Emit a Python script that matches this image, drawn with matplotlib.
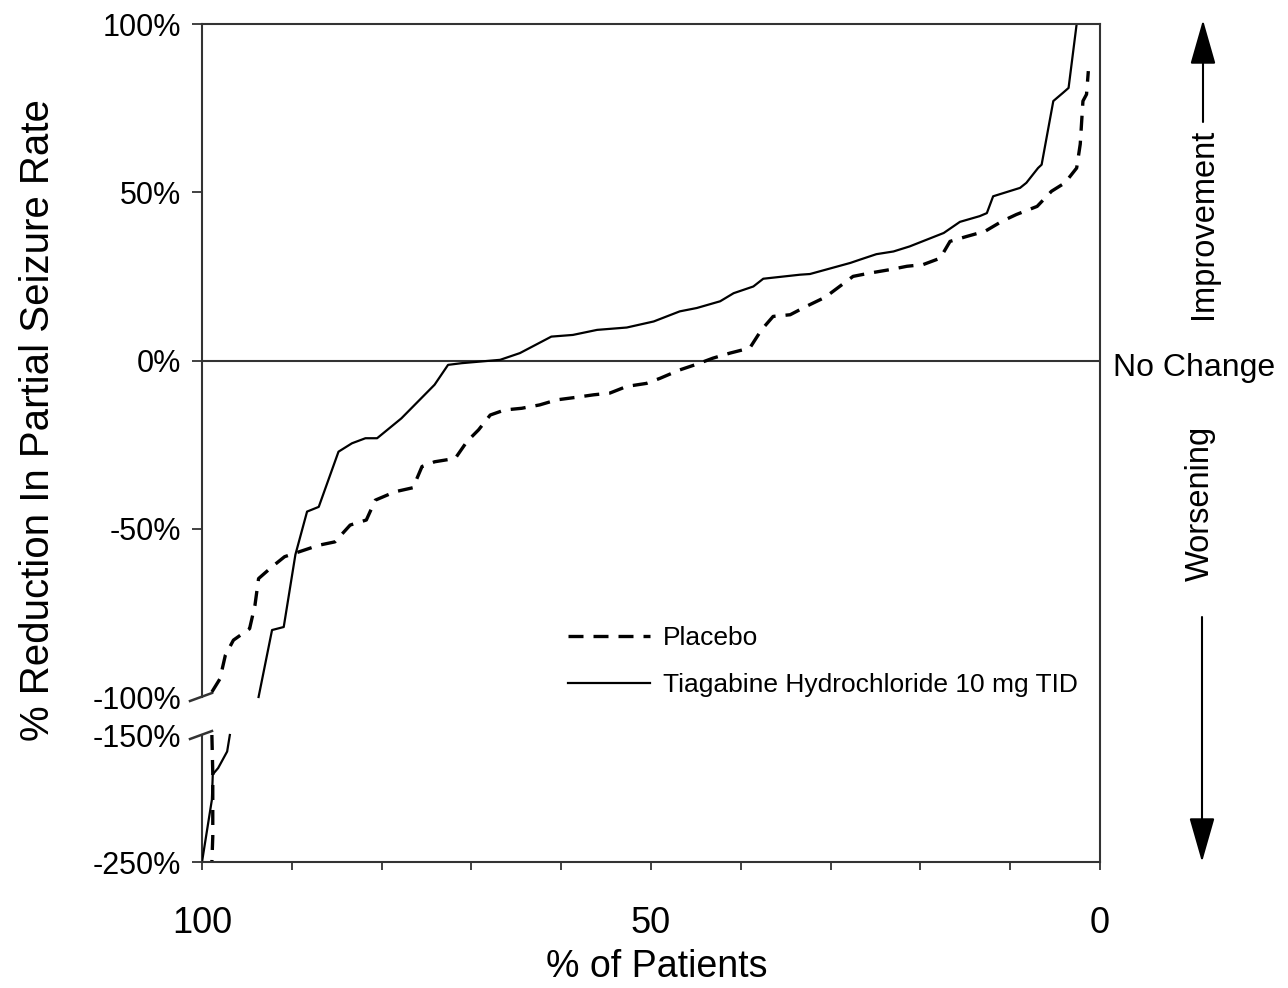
import numpy as np
import matplotlib
matplotlib.use("Agg")
import matplotlib.pyplot as plt

# ---------------- data ----------------
tiag_x_top = [93.7, 92.2, 90.9, 89.6, 88.3, 87.0, 84.8, 83.3, 81.8, 80.5, 77.8, 74.1,
              72.6, 71.1, 66.8, 64.6, 61.1, 58.7, 56.0, 52.7, 49.7, 46.8, 44.9, 42.3,
              40.8, 38.6, 37.5, 33.4, 32.3, 27.8, 26.7, 24.9, 23.0, 21.2, 17.4, 15.6,
              13.4, 12.6, 11.9, 8.9, 8.2, 6.9, 6.5, 5.2, 4.1, 3.5, 2.6]
tiag_y_top = [-100, -80.1, -79.2, -57.7, -44.9, -43.5, -27.1, -24.6, -23.1, -23.1, -17.2, -7.2,
              -1.3, -0.8, 0.2, 2.2, 7.1, 7.6, 9.1, 9.8, 11.6, 14.6, 15.6, 17.6,
              20.0, 22.0, 24.3, 25.5, 25.7, 29.0, 30.0, 31.6, 32.4, 33.9, 37.9, 41.2,
              42.9, 43.8, 48.8, 51.3, 52.8, 57.2, 58.2, 77.1, 79.6, 81.0, 100]
tiag_x_bot = [96.9, 97.2, 98.2, 98.8, 98.9, 100.0]
tiag_y_bot = [-150, -163, -176, -181, -201, -250]

plac_x_top = [98.9, 98.0, 97.4, 96.5, 94.7, 94.1, 93.7, 92.2, 90.8, 88.9, 87.0, 85.2,
              83.5, 81.7, 80.7, 78.5, 76.5, 75.5, 74.1, 71.8, 70.5, 69.2, 67.9, 66.3,
              64.4, 62.4, 60.5, 58.5, 56.4, 54.6, 52.7, 50.5, 49.0, 46.8, 44.9, 43.1,
              41.2, 39.0, 37.7, 36.4, 34.5, 32.7, 30.6, 29.0, 27.5, 25.6, 23.4, 21.5,
              19.7, 17.8, 16.7, 14.8, 12.8, 10.9, 9.3, 7.0, 5.4, 3.9, 2.6, 2.2, 1.9, 1.5, 1.3]
plac_y_top = [-98.5, -94.6, -87.6, -83.1, -79.7, -72.7, -64.8, -61.3, -58.3, -56.6, -54.9, -53.9,
              -48.9, -47.4, -41.5, -39.0, -37.8, -31.5, -30.1, -29.1, -24.1, -20.6, -16.2, -14.7,
              -14.2, -13.2, -11.7, -11.0, -10.2, -9.7, -7.7, -6.8, -5.3, -2.8, -1.1, 0.7,
              2.2, 3.7, 9.1, 13.1, 13.6, 16.1, 18.8, 22.0, 25.0, 26.0, 27.0, 28.0,
              28.5, 30.4, 35.4, 36.9, 38.4, 41.4, 43.4, 45.8, 50.3, 52.8, 57.2, 64.3, 77.1, 79.1, 86.0]
plac_x_bot = [98.9, 98.8, 98.8, 98.9]
plac_y_bot = [-150, -180, -230, -250]

y_ticks = [100, 50, 0, -50, -100, -150, -250]
y_tick_labels = ["100%", "50%", "0%", "-50%", "-100%", "-150%", "-250%"]
x_ticks = [100, 50, 0]
x_tick_labels = ["100", "50", "0"]

# ---------------- broken y scale ----------------
TOP_PX = 3.365          # px per unit above -100
GAP = 38.0 / TOP_PX     # gap between -100 and -150 (in top units)
BOT = 1.27 / TOP_PX     # compression factor below -150


def fwd(v):
    v = np.asarray(v, dtype=float)
    return np.where(v >= -100, v,
                    np.where(v >= -150, -100 + (v + 100) * GAP / 50.0,
                             -100 - GAP + (v + 150) * BOT))


def inv(u):
    u = np.asarray(u, dtype=float)
    return np.where(u >= -100, u,
                    np.where(u >= -100 - GAP, -100 + (u + 100) * 50.0 / GAP,
                             -150 + (u + 100 + GAP) / BOT))


W, H = 1288, 988
SANS = ["Liberation Sans", "DejaVu Sans"]
fig = plt.figure(figsize=(W / 100, H / 100), dpi=100)
ax = fig.add_axes([202 / W, 1 - 862 / H, (1100 - 202) / W, (862 - 24) / H])
ax.set_yscale("function", functions=(fwd, inv))
ax.set_ylim(-250, 100)
ax.set_xlim(100, 0)

frame_c = "#333333"
for s in ["top", "right", "bottom"]:
    ax.spines[s].set_color(frame_c)
    ax.spines[s].set_linewidth(1.5)
ax.spines["left"].set_visible(False)

# left spine in two pieces
yt = ax.get_yaxis_transform()
ax.plot([0, 0], [-100, 100], color=frame_c, lw=1.5, transform=yt, clip_on=False)
ax.plot([0, 0], [-250, -150], color=frame_c, lw=1.5, transform=yt, clip_on=False)

# break marks (in axes fraction)
lo = float(fwd(-250))
def frac(v):
    return (float(fwd(v)) - lo) / (100 - lo)
dx1, dx2 = -12 / 898, 10 / 898
dy = 8 / 838
for v in (-100, -150):
    f = frac(v)
    ax.plot([dx1, dx2], [f - dy / 2, f + dy / 2], color=frame_c, lw=1.8,
            transform=ax.transAxes, clip_on=False)

# zero line
ax.axhline(0, color=frame_c, lw=1.5)

# data
ax.plot(plac_x_top, plac_y_top, color="black", lw=2.4, dashes=(4.5, 3.0),
        label="Placebo")
ax.plot(plac_x_bot, plac_y_bot, color="black", lw=2.4, dashes=(4.5, 3.0))
ax.plot(tiag_x_top, tiag_y_top, color="black", lw=1.6,
        label="Tiagabine Hydrochloride 10 mg TID")
ax.plot(tiag_x_bot, tiag_y_bot, color="black", lw=1.6)

# ticks
ax.set_yticks(y_ticks)
ax.set_yticklabels(y_tick_labels)
ax.yaxis.set_minor_locator(matplotlib.ticker.NullLocator())
ax.tick_params(axis="y", which="major", direction="out", length=7, width=1.3,
               color=frame_c, pad=8, labelsize=22)
for t, v in zip(ax.yaxis.get_major_ticks(), y_ticks):
    if v in (-100, -150):
        t.tick1line.set_visible(False)

ax.set_xticks(x_ticks)
ax.set_xticklabels(x_tick_labels)
ax.set_xticks(np.arange(0, 101, 10), minor=True)
ax.tick_params(axis="x", which="both", direction="out", length=6, width=1.3,
               color=frame_c)
ax.tick_params(axis="x", which="major", pad=26, labelsize=26)

for lab in ax.get_yticklabels() + ax.get_xticklabels():
    lab.set_family(SANS)

# axis labels
fig.text(38 / W, 1 - 420 / H, "% Reduction In Partial Seizure Rate", rotation=90,
         ha="center", va="center", fontsize=29, family=SANS)
fig.text(657 / W, 1 - 967 / H, "% of Patients", ha="center", va="center",
         fontsize=27, family=SANS)

# right annotations
fig.text(1113 / W, 1 - 368 / H, "No Change", ha="left", va="center", fontsize=23,
         family=SANS)
fig.text(1203 / W, 1 - 224 / H, "Improvement", rotation=90, ha="center", va="center",
         fontsize=23.5, family=SANS)
fig.text(1200 / W, 1 - 503 / H, "Worsening", rotation=90, ha="center", va="center",
         fontsize=23.5, family=SANS)
arrow_kw = dict(arrowstyle="-|>,head_length=1.4,head_width=0.4", color="black",
                lw=1.5, mutation_scale=20, shrinkA=0, shrinkB=0)
fig.add_artist(matplotlib.patches.FancyArrowPatch(
    (1203 / W, 1 - 122 / H), (1203 / W, 1 - 20 / H), transform=fig.transFigure, **arrow_kw))
fig.add_artist(matplotlib.patches.FancyArrowPatch(
    (1202 / W, 1 - 617 / H), (1202 / W, 1 - 862 / H), transform=fig.transFigure, **arrow_kw))

# legend
leg = ax.legend(loc="upper left", bbox_to_anchor=(568 / W, 1 - 626 / H),
                bbox_transform=fig.transFigure, frameon=False, borderpad=0,
                borderaxespad=0, handlelength=3.1, handletextpad=0.5,
                labelspacing=0.88,
                prop={"family": SANS, "size": 19})

fig.savefig("out.png", dpi=100)
